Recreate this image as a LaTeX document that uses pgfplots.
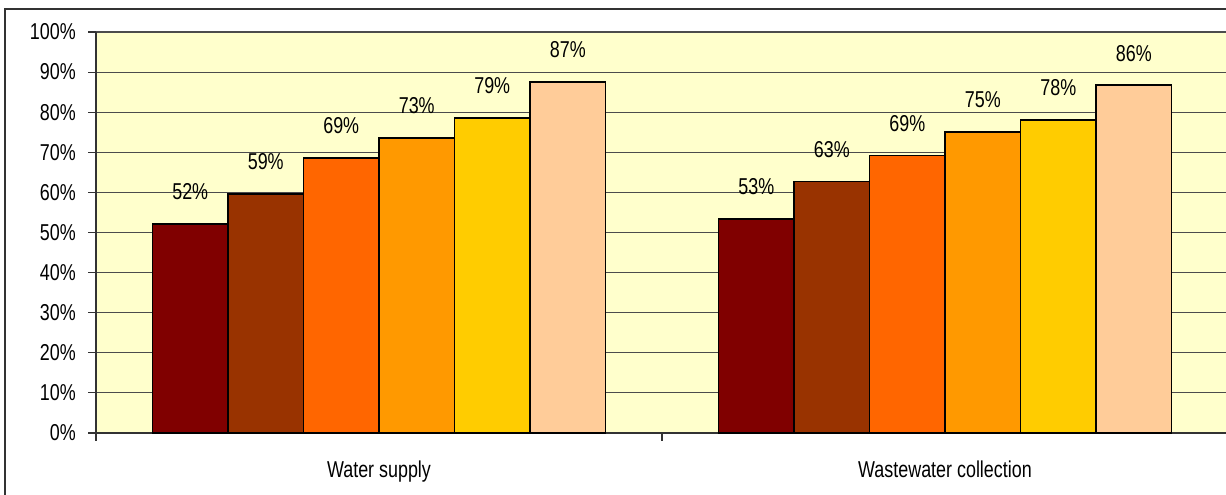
\documentclass[border=0pt]{standalone}
\usepackage{fontspec}
\setmainfont{Liberation Sans}[FakeStretch=0.78]
\usepackage{pgfplots}
\pgfplotsset{compat=1.18}

\definecolor{bgyellow}{HTML}{FFFFCC}
\definecolor{cA}{HTML}{800000}
\definecolor{cB}{HTML}{993300}
\definecolor{cC}{HTML}{FF6600}
\definecolor{cD}{HTML}{FF9900}
\definecolor{cE}{HTML}{FFCC00}
\definecolor{cF}{HTML}{FFCC99}

\begin{document}
\begin{tikzpicture}
\begin{axis}[
    at={(14.4mm,9.3mm)}, anchor=south west,
    scale only axis,
    width=169.8mm, height=60.15mm,
    xmin=-0.5, xmax=1.5, ymin=0, ymax=100,
    enlargelimits=false,
    ybar=0pt, bar width=11.325mm,
    axis lines*=left,
    axis line style={black!80, line width=0.45pt},
    axis background/.style={fill=bgyellow},
    ymajorgrids,
    major grid style={black!70, line width=0.45pt},
    ytick={0,10,...,100},
    yticklabel={\pgfmathprintnumber{\tick}\%},
    yticklabel style={xshift=-0.6mm},
    xtick={0,1},
    xticklabels={Water supply, Wastewater collection},
    xticklabel style={yshift=-1.8mm},
    minor xtick={-0.5,0.5,1.5},
    major x tick style=transparent,
    major tick length=1.2mm, minor tick length=1.2mm,
    tick align=outside,
    tick style={black!80, line width=0.45pt},
    font=\fontsize{9.8pt}{11pt}\selectfont,
    /pgf/number format/assume math mode=true,
    nodes near coords,
    point meta=explicit symbolic,
    nodes near coords style={anchor=center, yshift=4.8mm, black},
    every axis plot/.append style={draw=black, line width=0.75pt},
    clip=false,
]
\addplot[fill=cA] coordinates {(0,52.2) [52\%] (1,53.4) [53\%]};
\addplot[fill=cB] coordinates {(0,59.6) [59\%] (1,62.7) [63\%]};
\addplot[fill=cC] coordinates {(0,68.6) [69\%] (1,69.2) [69\%]};
\addplot[fill=cD] coordinates {(0,73.6) [73\%] (1,75.1) [75\%]};
\addplot[fill=cE] coordinates {(0,78.6) [79\%] (1,78.1) [78\%]};
\addplot[fill=cF] coordinates {(0,87.6) [87\%] (1,86.7) [86\%]};
\end{axis}
\draw[black!80, line width=0.45pt] (0.75mm,-10mm) rectangle (200mm,72.9mm);
\pgfresetboundingbox
\useasboundingbox (0,0) rectangle (183.9mm,74.25mm);
\end{tikzpicture}
\end{document}
